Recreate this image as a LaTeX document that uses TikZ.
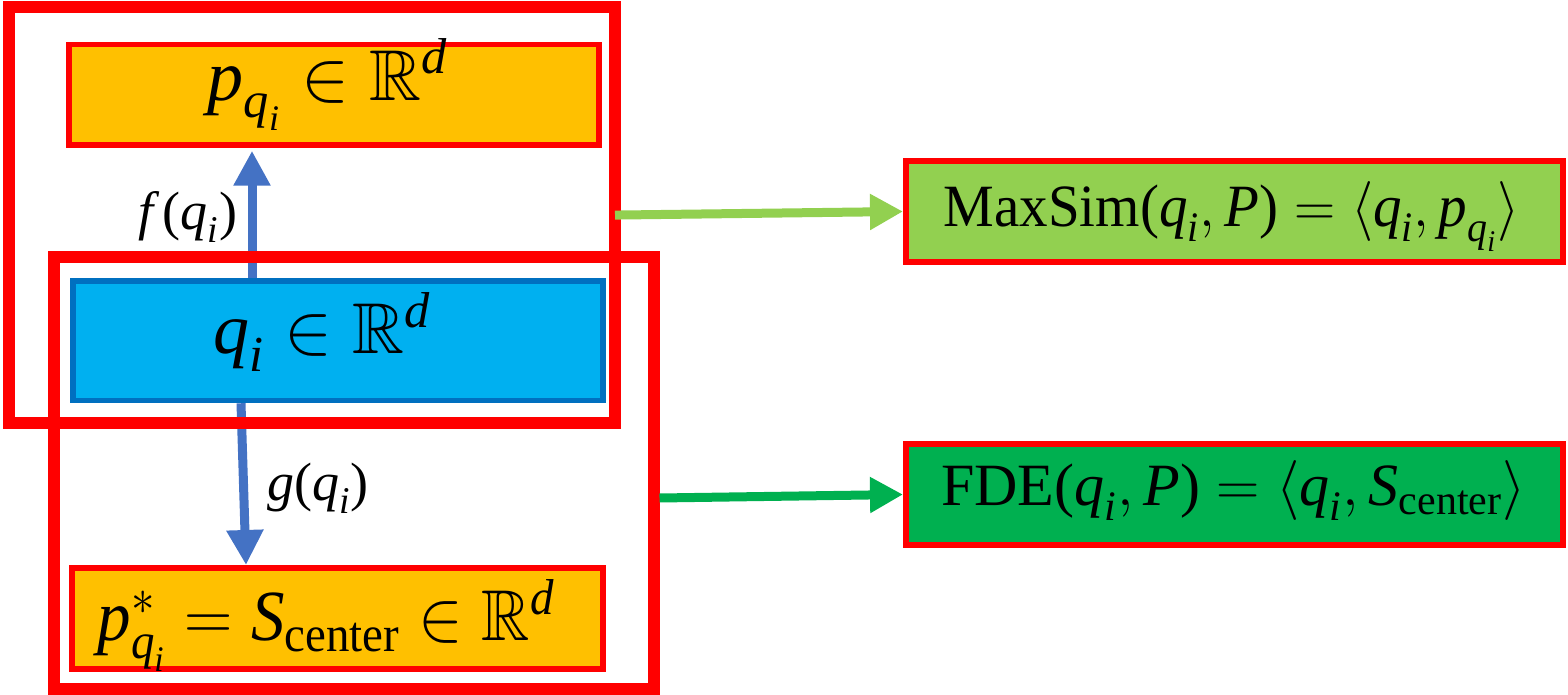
\RequirePackage{fix-cm}
\documentclass[tikz,border=0pt]{standalone}
\usepackage{amsmath,amssymb,graphicx}
\DeclareFontFamily{U}{msb}{}
\DeclareFontShape{U}{msb}{m}{n}{<-> msbm10}{}
\usepackage{fontspec}
\setmainfont{Liberation Serif}
\usetikzlibrary{arrows.meta}
\definecolor{cred}{HTML}{FF0000}
\definecolor{corange}{HTML}{FFC000}
\definecolor{cbluefill}{HTML}{00B0F0}
\definecolor{cblueline}{HTML}{0070C0}
\definecolor{carrow}{HTML}{4472C4}
\definecolor{clgreen}{HTML}{92D050}
\definecolor{cdgreen}{HTML}{00B050}
\newcommand\mv[1]{\text{\itshape #1}}
\newcommand\mr[1]{\text{\upshape #1}}
\begin{document}
\begin{tikzpicture}[x=0.5pt,y=-0.5pt,
  box/.style={rectangle, draw, inner sep=0pt},
  bigtext/.style={font=\fontsize{36}{40}\selectfont, inner sep=0pt},
  midtext/.style={font=\fontsize{30}{34}\selectfont, inner sep=0pt},
  labtext/.style={font=\fontsize{27}{30}\selectfont},
  frame/.style={rectangle, draw=cred, line width=6pt, inner sep=0pt},
  bluearrow/.style={draw=carrow, line width=4.5pt, -{Triangle[width=17.5pt,length=17.5pt]}},
  greenarrow/.style={line width=4.5pt, -{Triangle[width=17pt,length=16.5pt]}}]
\useasboundingbox (0,0) rectangle (1568,695);
% boxes
\node[box, draw=cred, fill=corange, line width=2.75pt, minimum width=265pt, minimum height=50.25pt] (ptop) at (334,94.75) {};
\node[box, draw=cblueline, fill=cbluefill, line width=2.75pt, minimum width=265pt, minimum height=59.75pt] (q) at (338,340.75) {};
\node[box, draw=cred, fill=corange, line width=3pt, minimum width=265.5pt, minimum height=50.5pt] (pbot) at (337.5,618.5) {};
\node[box, draw=cred, fill=clgreen, line width=3pt, minimum width=328.5pt, minimum height=50.5pt] (maxsim) at (1234.5,211.5) {};
\node[box, draw=cred, fill=cdgreen, line width=3pt, minimum width=328.5pt, minimum height=50.5pt] (fde) at (1234.5,494.5) {};
% box texts
\node[bigtext] (ptopt) at ([xshift=-3.25pt,yshift=5pt]ptop.center) {$\mv{p}_{\mv{q}_{\mv{i}}} \in \mathbb{R}^{\mv{d}}$};
\node[bigtext] (qt) at ([xshift=-8pt,yshift=4.5pt]q.center) {$\mv{q}_{\mv{i}} \in \mathbb{R}^{\mv{d}}$};
\node[bigtext] (pbott) at ([xshift=-5.75pt,yshift=-3.5pt]pbot.center) {\scalebox{0.93}[1]{$\mv{p}^{*}_{\mv{q}_{\mv{i}}} = \mv{S}_{\mr{center}} \in \mathbb{R}^{\mv{d}}$}};
\node[midtext] (maxsimt) at ([xshift=-1.5pt,yshift=-2.5pt]maxsim.center) {\scalebox{0.95}[1]{$\mr{MaxSim}\mr{(}\mv{q}_{\mv{i}}, \mv{P}\mr{)} = \langle \mv{q}_{\mv{i}}, \mv{p}_{\mv{q}_{\mv{i}}} \rangle$}};
\node[midtext] (fdet) at ([xshift=-0.5pt,yshift=2pt]fde.center) {$\mr{FDE}\mr{(}\mv{q}_{\mv{i}}, \mv{P}\mr{)} = \langle \mv{q}_{\mv{i}}, \mv{S}_{\mr{center}} \rangle$};
% blue arrows
\coordinate (fx) at (252,0);
\coordinate (gx1) at (241,0);
\coordinate (gx2) at (246,0);
\draw[bluearrow, shorten >=1.5pt] (q.north -| fx) -- (ptop.south -| fx);
\draw[bluearrow] (q.south -| gx1) -- (pbot.north -| gx2);
% labels
\node[labtext] (flab) at (188,217) {$\mv{f}\,\mr{(}\mv{q}_{\mv{i}}\mr{)}$};
\node[labtext] (glab) at (318,488) {$\mv{g}\mr{(}\mv{q}_{\mv{i}}\mr{)}$};
% frames
\node[frame, minimum width=303.25pt, minimum height=207.5pt] (fr1) at (311.75,215) {};
\node[frame, minimum width=299.75pt, minimum height=215.75pt] (fr2) at (353.75,472.75) {};
% green arrows
\coordinate (dg) at (0,498);
\draw[greenarrow, draw=clgreen, fill=clgreen, shorten <=-3pt] (fr1.east) -- (maxsim.west);
\draw[greenarrow, draw=cdgreen, fill=cdgreen] (fr2.east |- dg) -- (fde.west);
\end{tikzpicture}
\end{document}
